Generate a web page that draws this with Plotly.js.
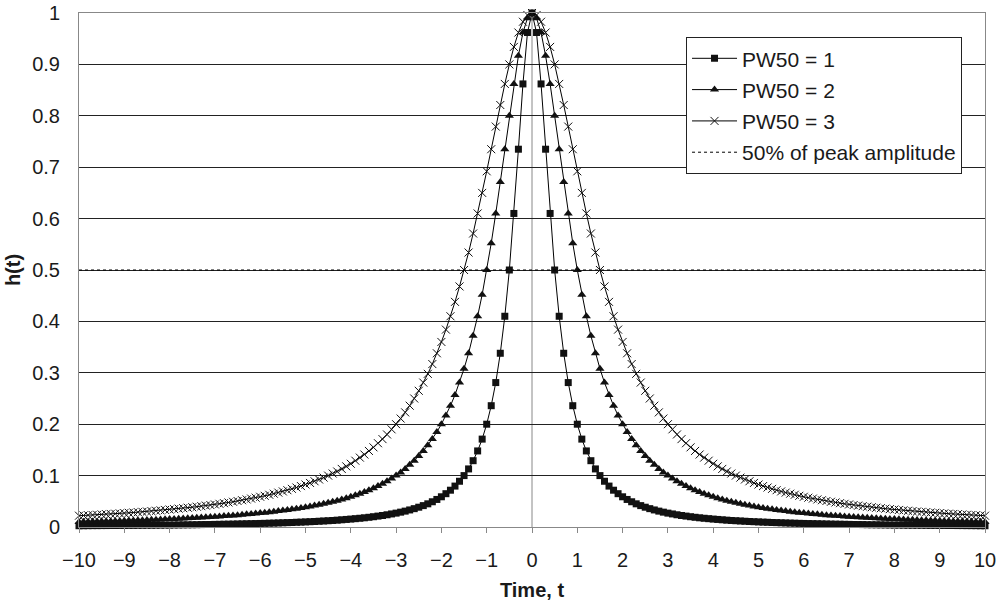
<!DOCTYPE html>
<html>
<head>
<meta charset="utf-8">
<script src="https://cdn.plot.ly/plotly-3.0.1.min.js"></script>
<style>html,body{margin:0;padding:0;background:#fff;}#chart{width:1005px;height:604px;}</style>
</head>
<body>
<div id="chart"></div>
<script>
const time = [
-10,-9.9,-9.8,-9.7,-9.6,-9.5,-9.4,-9.3,-9.2,-9.1,
-9,-8.9,-8.8,-8.7,-8.6,-8.5,-8.4,-8.3,-8.2,-8.1,
-8,-7.9,-7.8,-7.7,-7.6,-7.5,-7.4,-7.3,-7.2,-7.1,
-7,-6.9,-6.8,-6.7,-6.6,-6.5,-6.4,-6.3,-6.2,-6.1,
-6,-5.9,-5.8,-5.7,-5.6,-5.5,-5.4,-5.3,-5.2,-5.1,
-5,-4.9,-4.8,-4.7,-4.6,-4.5,-4.4,-4.3,-4.2,-4.1,
-4,-3.9,-3.8,-3.7,-3.6,-3.5,-3.4,-3.3,-3.2,-3.1,
-3,-2.9,-2.8,-2.7,-2.6,-2.5,-2.4,-2.3,-2.2,-2.1,
-2,-1.9,-1.8,-1.7,-1.6,-1.5,-1.4,-1.3,-1.2,-1.1,
-1,-0.9,-0.8,-0.7,-0.6,-0.5,-0.4,-0.3,-0.2,-0.1,
0,0.1,0.2,0.3,0.4,0.5,0.6,0.7,0.8,0.9,
1,1.1,1.2,1.3,1.4,1.5,1.6,1.7,1.8,1.9,
2,2.1,2.2,2.3,2.4,2.5,2.6,2.7,2.8,2.9,
3,3.1,3.2,3.3,3.4,3.5,3.6,3.7,3.8,3.9,
4,4.1,4.2,4.3,4.4,4.5,4.6,4.7,4.8,4.9,
5,5.1,5.2,5.3,5.4,5.5,5.6,5.7,5.8,5.9,
6,6.1,6.2,6.3,6.4,6.5,6.6,6.7,6.8,6.9,
7,7.1,7.2,7.3,7.4,7.5,7.6,7.7,7.8,7.9,
8,8.1,8.2,8.3,8.4,8.5,8.6,8.7,8.8,8.9,
9,9.1,9.2,9.3,9.4,9.5,9.6,9.7,9.8,9.9,
10];

const pw50_1 = [
0.0025,
0.0025,0.0026,0.0027,0.0027,0.0028,0.0028,0.0029,0.0029,0.0030,0.0031,
0.0032,0.0032,0.0033,0.0034,0.0035,0.0035,0.0036,0.0037,0.0038,0.0039,
0.0040,0.0041,0.0042,0.0043,0.0044,0.0045,0.0047,0.0048,0.0049,0.0051,
0.0052,0.0054,0.0055,0.0057,0.0059,0.0061,0.0063,0.0065,0.0067,0.0069,
0.0071,0.0074,0.0076,0.0079,0.0082,0.0085,0.0088,0.0092,0.0095,0.0099,
0.0103,0.0107,0.0112,0.0117,0.0122,0.0127,0.0133,0.0140,0.0147,0.0154,
0.0162,0.0170,0.0179,0.0189,0.0200,0.0212,0.0224,0.0238,0.0254,0.0270,
0.0289,0.0309,0.0332,0.0357,0.0385,0.0416,0.0451,0.0491,0.0536,0.0588,
0.0648,0.0716,0.0796,0.0890,0.100,0.113,0.129,0.148,0.171,0.200,
0.236,0.281,0.338,0.410,0.500,0.610,0.735,0.862,0.962,
1,0.962,0.862,0.735,0.610,0.500,0.410,0.338,0.281,0.236,
0.200,0.171,0.148,0.129,0.113,0.100,0.0890,0.0796,0.0716,0.0648,
0.0588,0.0536,0.0491,0.0451,0.0416,0.0385,0.0357,0.0332,0.0309,0.0289,
0.0270,0.0254,0.0238,0.0224,0.0212,0.0200,0.0189,0.0179,0.0170,0.0162,
0.0154,0.0147,0.0140,0.0133,0.0127,0.0122,0.0117,0.0112,0.0107,0.0103,
0.0099,0.0095,0.0092,0.0088,0.0085,0.0082,0.0079,0.0076,0.0074,0.0071,
0.0069,0.0067,0.0065,0.0063,0.0061,0.0059,0.0057,0.0055,0.0054,0.0052,
0.0051,0.0049,0.0048,0.0047,0.0045,0.0044,0.0043,0.0042,0.0041,0.0040,
0.0039,0.0038,0.0037,0.0036,0.0035,0.0035,0.0034,0.0033,0.0032,0.0032,
0.0031,0.0030,0.0029,0.0029,0.0028,0.0028,0.0027,0.0027,0.0026,0.0025,
0.0025];

const pw50_2 = [
0.0099,
0.0101,0.0103,0.0105,0.0107,0.0110,0.0112,0.0114,0.0117,0.0119,0.0122,
0.0125,0.0127,0.0130,0.0133,0.0137,0.0140,0.0143,0.0147,0.0150,0.0154,
0.0158,0.0162,0.0166,0.0170,0.0175,0.0179,0.0184,0.0189,0.0195,0.0200,
0.0206,0.0212,0.0218,0.0224,0.0231,0.0238,0.0246,0.0254,0.0262,0.0270,
0.0279,0.0289,0.0299,0.0309,0.0320,0.0332,0.0344,0.0357,0.0370,0.0385,
0.0400,0.0416,0.0433,0.0451,0.0471,0.0491,0.0513,0.0536,0.0561,0.0588,
0.0617,0.0648,0.0681,0.0716,0.0755,0.0796,0.0841,0.0890,0.0943,0.100,
0.106,0.113,0.121,0.129,0.138,0.148,0.159,0.171,0.185,0.200,
0.217,0.236,0.257,0.281,0.308,0.338,0.372,0.410,0.452,0.500,
0.552,0.610,0.671,0.735,0.800,0.862,0.917,0.962,0.990,
1,0.990,0.962,0.917,0.862,0.800,0.735,0.671,0.610,0.552,
0.500,0.452,0.410,0.372,0.338,0.308,0.281,0.257,0.236,0.217,
0.200,0.185,0.171,0.159,0.148,0.138,0.129,0.121,0.113,0.106,
0.100,0.0943,0.0890,0.0841,0.0796,0.0755,0.0716,0.0681,0.0648,0.0617,
0.0588,0.0561,0.0536,0.0513,0.0491,0.0471,0.0451,0.0433,0.0416,0.0400,
0.0385,0.0370,0.0357,0.0344,0.0332,0.0320,0.0309,0.0299,0.0289,0.0279,
0.0270,0.0262,0.0254,0.0246,0.0238,0.0231,0.0224,0.0218,0.0212,0.0206,
0.0200,0.0195,0.0189,0.0184,0.0179,0.0175,0.0170,0.0166,0.0162,0.0158,
0.0154,0.0150,0.0147,0.0143,0.0140,0.0137,0.0133,0.0130,0.0127,0.0125,
0.0122,0.0119,0.0117,0.0114,0.0112,0.0110,0.0107,0.0105,0.0103,0.0101,
0.0099];

const pw50_3 = [
0.0220,
0.0224,0.0229,0.0234,0.0238,0.0244,0.0249,0.0254,0.0259,0.0265,0.0270,
0.0276,0.0282,0.0289,0.0295,0.0302,0.0309,0.0316,0.0324,0.0332,0.0340,
0.0348,0.0357,0.0366,0.0375,0.0385,0.0395,0.0405,0.0416,0.0427,0.0439,
0.0451,0.0464,0.0477,0.0491,0.0506,0.0521,0.0536,0.0553,0.0570,0.0588,
0.0607,0.0627,0.0648,0.0669,0.0692,0.0716,0.0742,0.0768,0.0796,0.0826,
0.0857,0.0890,0.0924,0.0961,0.100,0.104,0.108,0.113,0.118,0.123,
0.129,0.135,0.141,0.148,0.155,0.163,0.171,0.180,0.190,0.200,
0.211,0.223,0.236,0.250,0.265,0.281,0.298,0.317,0.338,0.360,
0.384,0.410,0.438,0.468,0.500,0.534,0.571,0.610,0.650,0.692,
0.735,0.779,0.821,0.862,0.900,0.934,0.962,0.983,0.996,
1,0.996,0.983,0.962,0.934,0.900,0.862,0.821,0.779,0.735,
0.692,0.650,0.610,0.571,0.534,0.500,0.468,0.438,0.410,0.384,
0.360,0.338,0.317,0.298,0.281,0.265,0.250,0.236,0.223,0.211,
0.200,0.190,0.180,0.171,0.163,0.155,0.148,0.141,0.135,0.129,
0.123,0.118,0.113,0.108,0.104,0.100,0.0961,0.0924,0.0890,0.0857,
0.0826,0.0796,0.0768,0.0742,0.0716,0.0692,0.0669,0.0648,0.0627,0.0607,
0.0588,0.0570,0.0553,0.0536,0.0521,0.0506,0.0491,0.0477,0.0464,0.0451,
0.0439,0.0427,0.0416,0.0405,0.0395,0.0385,0.0375,0.0366,0.0357,0.0348,
0.0340,0.0332,0.0324,0.0316,0.0309,0.0302,0.0295,0.0289,0.0282,0.0276,
0.0270,0.0265,0.0259,0.0254,0.0249,0.0244,0.0238,0.0234,0.0229,0.0224,
0.0220];

const halfX = [-10, 10];
const halfY = [0.5, 0.5];

const xTickVals = [-10,-9,-8,-7,-6,-5,-4,-3,-2,-1,0,1,2,3,4,5,6,7,8,9,10];
const xTickText = ['\u221210','\u22129','\u22128','\u22127','\u22126','\u22125','\u22124','\u22123','\u22122','\u22121','0','1','2','3','4','5','6','7','8','9','10'];
const yTickVals = [0,0.1,0.2,0.3,0.4,0.5,0.6,0.7,0.8,0.9,1];
const yTickText = ['0','0.1','0.2','0.3','0.4','0.5','0.6','0.7','0.8','0.9','1'];

const FONT = 'Liberation Sans, Arial, sans-serif';
const TXT = '#1a1a1a';

const traces = [
  {x: time, y: pw50_1, name: 'PW50 = 1', legendgroup: 'a', type: 'scatter', mode: 'lines+markers', cliponaxis: false,
   line: {color: '#000', width: 1}, marker: {symbol: 'square', size: 7, color: '#111'}},
  {x: time, y: pw50_2, name: 'PW50 = 2', legendgroup: 'b', type: 'scatter', mode: 'lines+markers', cliponaxis: false,
   line: {color: '#000', width: 1}, marker: {symbol: 'triangle-up', size: 8, color: '#111'}},
  {x: time, y: pw50_3, name: 'PW50 = 3', legendgroup: 'c', type: 'scatter', mode: 'lines+markers', cliponaxis: false,
   line: {color: '#000', width: 1}, marker: {symbol: 'x-thin-open', size: 8, color: '#111', line: {color: '#111', width: 1}}},
  {x: halfX, y: halfY, name: '50% of peak amplitude', legendgroup: 'd', type: 'scatter', mode: 'lines',
   line: {color: '#000', width: 1, dash: 'dot'}}
];

const layout = {
  width: 1005, height: 604,
  margin: {l: 79, r: 20, t: 13, b: 77},
  paper_bgcolor: '#fff', plot_bgcolor: '#fff',
  font: {family: FONT, size: 20, color: TXT},
  showlegend: true,
  legend: {x: 0.67, y: 0.953, xanchor: 'left', yanchor: 'top',
    bgcolor: '#fff', bordercolor: '#222', borderwidth: 1, itemwidth: 45,
    font: {family: FONT, size: 21, color: TXT}, tracegroupgap: 1},
  xaxis: {range: [-10, 10], tickmode: 'array', tickvals: xTickVals, ticktext: xTickText,
    showgrid: false, zeroline: false, showline: true, linecolor: '#888', linewidth: 1, mirror: true,
    ticks: 'outside', ticklen: 5, tickcolor: '#888', ticklabelstandoff: 10,
    title: {text: '<b>Time, t</b>', font: {family: FONT, size: 20, color: TXT}, standoff: 12}},
  yaxis: {range: [0, 1], tickmode: 'array', tickvals: yTickVals, ticktext: yTickText,
    showgrid: true, gridcolor: '#222', gridwidth: 1, zeroline: false,
    showline: true, linecolor: '#888', linewidth: 1, mirror: true, ticks: '', ticklabelstandoff: 14,
    title: {text: '<b>h(t)</b>', font: {family: FONT, size: 20, color: TXT}, standoff: 6}},
  shapes: [
    {type: 'line', xref: 'x', yref: 'y', x0: 0, x1: 0, y0: 0, y1: 1, layer: 'below', line: {color: '#888', width: 1}}
  ]
};

Plotly.newPlot('chart', traces, layout, {displayModeBar: false, staticPlot: true});
</script>
</body>
</html>
